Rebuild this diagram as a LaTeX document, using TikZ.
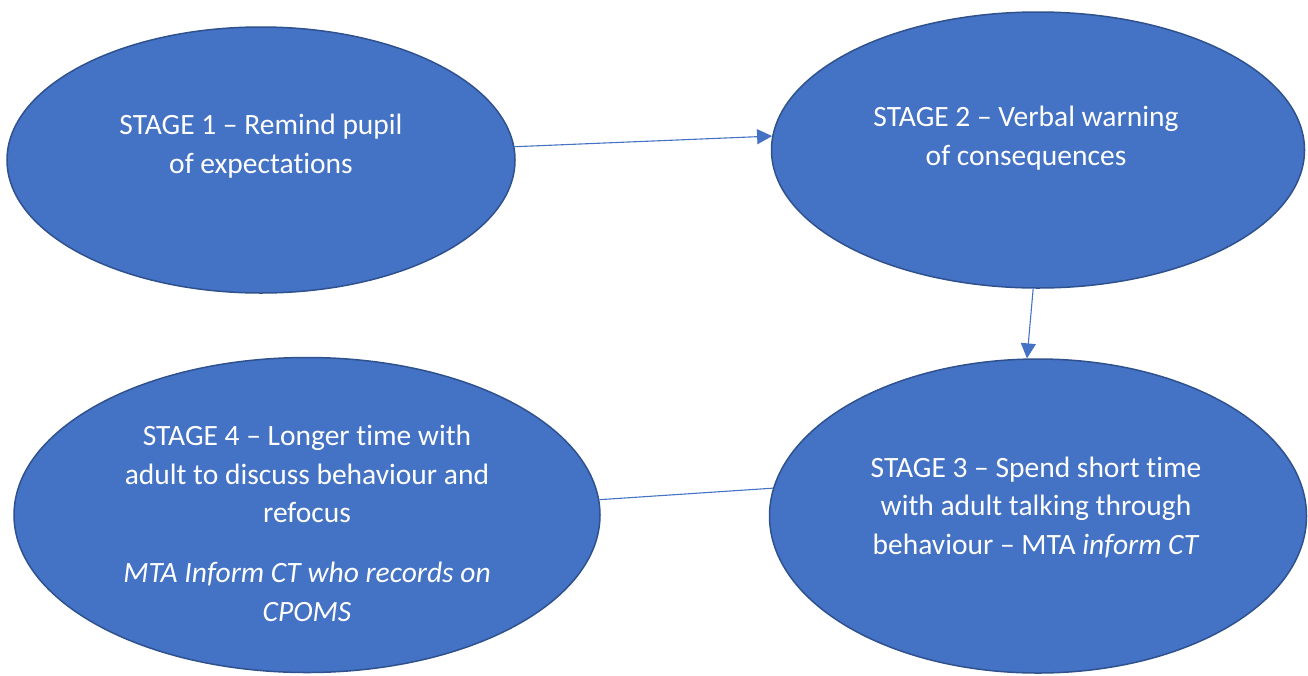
\documentclass[tikz,border=0pt]{standalone}
\usepackage{fontspec}
\setmainfont{Carlito}[Ligatures=CommonOff]
\usetikzlibrary{shapes.geometric,arrows.meta}
\definecolor{fillblue}{HTML}{4472C4}
\definecolor{edgeblue}{HTML}{2F528F}
\tikzset{
  stagebox/.style={ellipse, draw=edgeblue, line width=1.5pt, fill=fillblue, inner sep=0pt},
  stagetext/.style={text=white, align=center, font=\fontsize{29.5}{38.5}\selectfont, inner sep=0pt},
  link/.style={draw=fillblue, line width=1.1pt},
  arrowlink/.style={link, -{Triangle[length=15pt,width=15pt]}}
}
\begin{document}
\begin{tikzpicture}[x=1pt,y=-1pt]
\useasboundingbox (0,0) rectangle (1308,675);
\node[stagebox, minimum width=508pt, minimum height=266pt] (e1) at (261,160) {};
\node[stagebox, minimum width=533pt, minimum height=276pt] (e2) at (1038,150) {};
\node[stagebox, minimum width=537pt, minimum height=314pt] (e3) at (1038,516) {};
\node[stagebox, minimum width=586pt, minimum height=315pt] (e4) at (307,515) {};

\node[stagetext] (t1) at (261,146) {STAGE 1 – Remind pupil\\of expectations};
\node[stagetext] (t2) at (1026,138) {STAGE 2 – Verbal warning\\of consequences};
\node[stagetext] (t3) at (1036,507) {STAGE 3 – Spend short time\\with adult talking through\\behaviour – MTA \textit{inform CT}};
\node[stagetext] (t4) at (307,474) {STAGE 4 – Longer time with\\adult to discuss behaviour and\\refocus};
\node[stagetext, font=\fontsize{29.5}{38.5}\selectfont\itshape] (t4b) at (307,592) {MTA Inform CT who records on\\CPOMS};

\draw[arrowlink] (e1.3.4) -- (e2.177);
\draw[arrowlink] (e2.-92) -- (e3.94.8);
\draw[link] (e3.174) -- (e4.3.9);
\end{tikzpicture}
\end{document}
